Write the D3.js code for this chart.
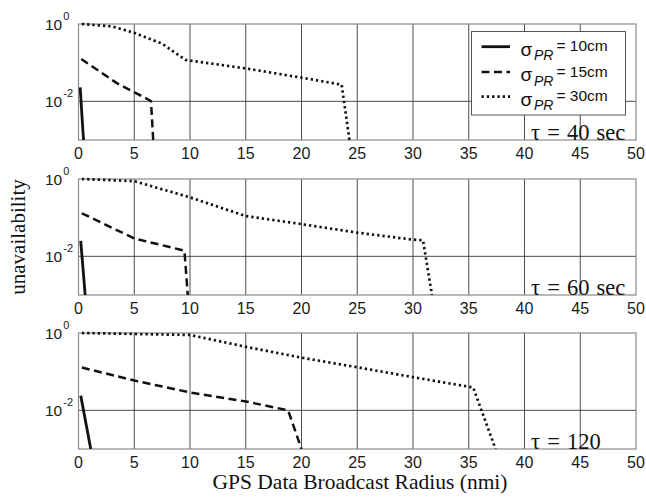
<!DOCTYPE html>
<html>
<head>
<meta charset="utf-8">
<script src="https://cdn.jsdelivr.net/npm/d3@7"></script>
<style>
  html, body { margin: 0; padding: 0; background: #fff; }
  svg { display: block; }
</style>
</head>
<body>
<svg id="chart" width="646" height="499"></svg>
<script>
// Broadcast radius ticks (nmi) and log-scale decade ticks
const xTicks = [0, 5, 10, 15, 20, 25, 30, 35, 40, 45, 50];
const yTickExps = [0, -2];
const panelLabels = ["τ = 40 sec", "τ = 60 sec", "τ = 120"];

// Unavailability curves, one set per update interval τ
// each series: [radius (nmi), unavailability]
const tau40_sigma10 = [[0.15, 0.023], [0.45, 0.001]];
const tau40_sigma15 = [[0.25, 0.125], [3.4, 0.03], [6.5, 0.0102], [6.7, 0.001]];
const tau40_sigma30 = [[0.3, 1.0], [3, 0.87], [5, 0.59], [7.5, 0.31], [9.6, 0.118], [15, 0.071], [20, 0.041], [23.6, 0.027], [24.3, 0.001]];

const tau60_sigma10 = [[0.2, 0.025], [0.6, 0.001]];
const tau60_sigma15 = [[0.3, 0.13], [5, 0.029], [9.5, 0.014], [9.8, 0.001]];
const tau60_sigma30 = [[0.3, 1.0], [5, 0.88], [10, 0.335], [15, 0.11], [20, 0.068], [25, 0.041], [30, 0.027], [30.9, 0.026], [31.7, 0.001]];

const tau120_sigma10 = [[0.2, 0.024], [1.1, 0.001]];
const tau120_sigma15 = [[0.3, 0.128], [5, 0.059], [10, 0.029], [15, 0.017], [18.8, 0.01], [20, 0.001]];
const tau120_sigma30 = [[0.3, 1.0], [10, 0.89], [15, 0.44], [20, 0.23], [25, 0.13], [30, 0.072], [35.4, 0.039], [37.4, 0.001]];

const legendLabels = ["= 10cm", "= 15cm", "= 30cm"];

const panelSeries = [
  [tau40_sigma10, tau40_sigma15, tau40_sigma30],
  [tau60_sigma10, tau60_sigma15, tau60_sigma30],
  [tau120_sigma10, tau120_sigma15, tau120_sigma30]
];

// Line styles for σ = 10, 15, 30 cm
const styles = [
  { width: 2.8, dash: null },
  { width: 2.5, dash: "8,4.5" },
  { width: 2.7, dash: "2.3,3" }
];

const svg = d3.select("#chart");
const left = 78.5, right = 636;
const panelTops = [24, 179, 333];
const panelH = 116;

const x = d3.scaleLinear().domain([0, 50]).range([left, right]);

const sansFont = "'Liberation Sans', Arial, sans-serif";
const serifFont = "'Liberation Serif', 'Times New Roman', serif";

panelTops.forEach((top, i) => {
  const y = d3.scaleLog().domain([1e-3, 1]).range([top + panelH, top]);
  const g = svg.append("g");

  const clipId = "clip" + i;
  svg.append("clipPath").attr("id", clipId)
    .append("rect").attr("x", left).attr("y", top - 2)
    .attr("width", right - left).attr("height", panelH + 2);

  // vertical grid
  g.selectAll(".vgrid").data(xTicks.slice(1, -1)).enter().append("line")
    .attr("x1", d => x(d)).attr("x2", d => x(d))
    .attr("y1", top).attr("y2", top + panelH)
    .attr("stroke", "#3a3a3a").attr("stroke-width", 0.9);

  // horizontal grid at 10^-2
  g.append("line")
    .attr("x1", left).attr("x2", right)
    .attr("y1", y(1e-2)).attr("y2", y(1e-2))
    .attr("stroke", "#3a3a3a").attr("stroke-width", 0.9);

  // frame
  g.append("rect")
    .attr("x", left).attr("y", top)
    .attr("width", right - left).attr("height", panelH)
    .attr("fill", "none").attr("stroke", "#8a8a8a").attr("stroke-width", 1.2);

  // x tick labels
  g.selectAll(".xl").data(xTicks).enter().append("text")
    .attr("x", d => x(d)).attr("y", top + panelH + 19)
    .attr("text-anchor", "middle")
    .attr("font-family", sansFont).attr("font-size", 16)
    .attr("fill", "#1a1a1a")
    .text(d => d);

  // y tick labels: 10 with superscript exponent
  yTickExps.forEach(e => {
    const ty = y(Math.pow(10, e));
    const t = g.append("text")
      .attr("x", 45).attr("y", ty + 6)
      .attr("font-family", sansFont).attr("font-size", 15.5)
      .attr("fill", "#1a1a1a");
    t.append("tspan").text("10");
    t.append("tspan").attr("dx", 1).attr("dy", -10).attr("font-size", 11)
      .text(e === 0 ? "0" : "-" + Math.abs(e));
  });

  // τ label
  g.append("text")
    .attr("x", 531).attr("y", top + panelH)
    .attr("font-family", serifFont).attr("font-size", 22.5)
    .attr("word-spacing", 1.5)
    .attr("fill", "#111")
    .text(panelLabels[i]);

  // curves
  const line = d3.line().x(d => x(d[0])).y(d => y(d[1]));
  const lg = g.append("g").attr("clip-path", `url(#${clipId})`);
  panelSeries[i].forEach((s, k) => {
    lg.append("path")
      .attr("d", line(s))
      .attr("fill", "none")
      .attr("stroke", "#111")
      .attr("stroke-width", styles[k].width)
      .attr("stroke-dasharray", styles[k].dash)
      .attr("stroke-linejoin", "round");
  });

  // legend in top panel
  if (i === 0) {
    const leg = g.append("g");
    leg.append("rect")
      .attr("x", 471.5).attr("y", 31.5).attr("width", 154).attr("height", 83.5)
      .attr("fill", "#fff").attr("stroke", "#555").attr("stroke-width", 1);
    const rows = [46.7, 72, 96.7];
    rows.forEach((ry, k) => {
      leg.append("line")
        .attr("x1", 481.5).attr("x2", 510).attr("y1", ry).attr("y2", ry)
        .attr("stroke", "#111")
        .attr("stroke-width", styles[k].width)
        .attr("stroke-dasharray", styles[k].dash);
      leg.append("text")
        .attr("x", 520.5).attr("y", ry + 9)
        .attr("font-family", sansFont).attr("font-size", 19)
        .attr("fill", "#111").text("σ");
      leg.append("text")
        .attr("x", 534).attr("y", ry + 13.5)
        .attr("font-family", sansFont).attr("font-size", 14)
        .attr("font-style", "italic")
        .attr("fill", "#111").text("PR");
      leg.append("text")
        .attr("x", 556.5).attr("y", ry + 4.5)
        .attr("font-family", sansFont).attr("font-size", 15.5)
        .attr("fill", "#111").text(legendLabels[k]);
    });
  }
});

// axis titles
svg.append("text")
  .attr("x", 360).attr("y", 489)
  .attr("text-anchor", "middle")
  .attr("font-family", serifFont).attr("font-size", 21.5)
  .attr("fill", "#111")
  .text("GPS Data Broadcast Radius (nmi)");

svg.append("text")
  .attr("transform", "translate(25,237) rotate(-90)")
  .attr("text-anchor", "middle")
  .attr("font-family", serifFont).attr("font-size", 21)
  .attr("fill", "#111")
  .text("unavailability");
</script>
</body>
</html>
